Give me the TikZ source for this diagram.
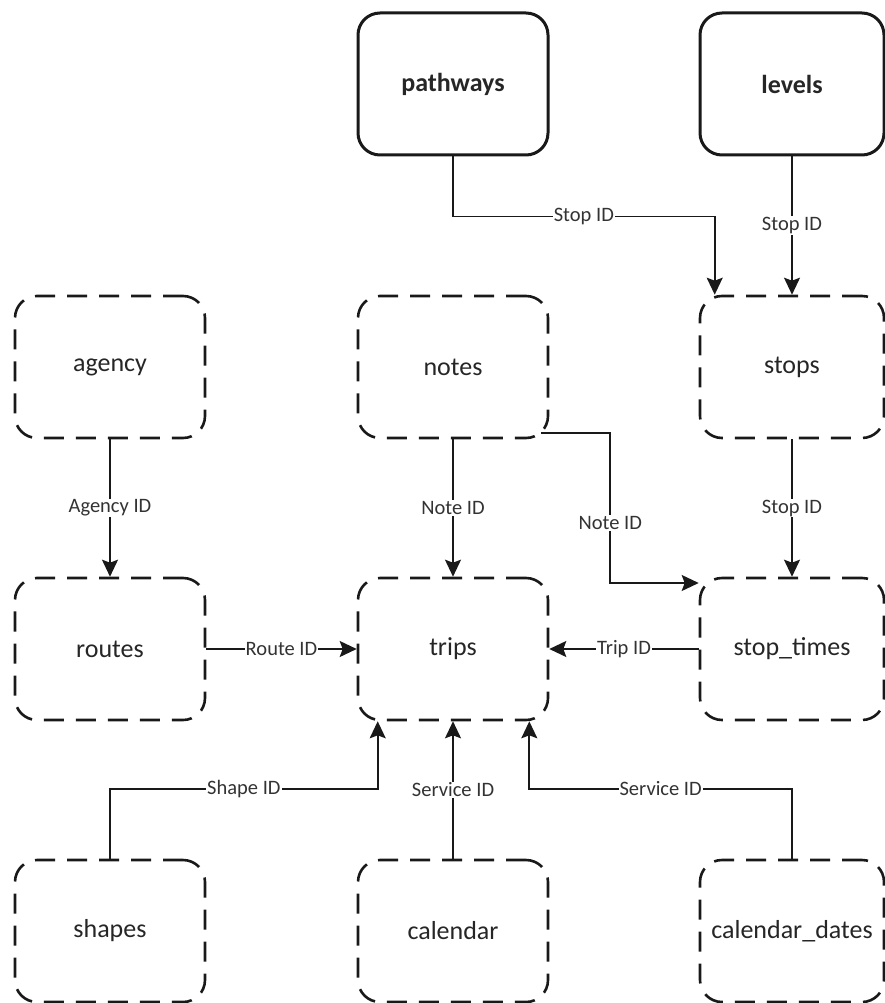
\documentclass[tikz,border=0pt]{standalone}
\usepackage{fontspec}
\setmainfont{Carlito}
\usetikzlibrary{calc}
\usetikzlibrary{arrows.meta}

\begin{document}
\begin{tikzpicture}[x=1pt,y=-1pt,
  table/.style={draw=black!90, line width=2.6pt, dash pattern=on 20pt off 12pt,
    rounded corners=22pt, minimum width=190pt, minimum height=142pt,
    inner sep=0pt, text=black!85, font=\fontsize{26}{30}\selectfont},
  narrow/.style={minimum width=184pt},
  extra/.style={draw=black!90, line width=3pt, solid, rounded corners=22pt,
    minimum width=190pt, minimum height=142pt, inner sep=0pt,
    text=black!85, font=\bfseries\fontsize{26}{30}\selectfont},
  link/.style={line width=1.8pt, draw=black!90,
    arrows={-Stealth[length=17pt,width=16pt,inset=3pt]}},
  key/.style={fill=white, inner sep=1pt, text=black!80,
    font=\fontsize{20.5}{24}\selectfont}]

\useasboundingbox (0,0) rectangle (885,1003);

% optional tables
\node[extra] (pathways) at (453,84) {pathways};
\node[extra,narrow] (levels) at (792,84) {levels};

% row 1
\node[table] (agency) at (110,367) {agency};
\node[table] (notes) at (453,367) {notes};
\node[table,narrow] (stops) at (792,367) {stops};

% row 2
\node[table] (routes) at (110,649) {routes};
\node[table] (trips) at (453,649) {trips};
\node[table,narrow] (stop_times) at (792,649) {stop\_times};

% row 3
\node[table] (shapes) at (110,931) {shapes};
\node[table] (calendar) at (453,931) {calendar};
\node[table,narrow] (calendar_dates) at (792,931) {calendar\_dates};

% keys
\draw[link] (pathways.south) -- ++(0,60) -| node[key,pos=0.25] {Stop ID}
  ([shift={(16,0)}]stops.north west);
\draw[link] (levels) -- node[key] {Stop ID} (stops);

\draw[link] (agency) -- node[key] {Agency ID} (routes);
\draw[link] (notes) -- node[key] {Note ID} (trips);
\draw[link] ([shift={(-8,-6)}]notes.south east) -- ++(69,0)
  |- node[key,pos=0.3] {Note ID} ([shift={(0,-66)}]stop_times.west);
\draw[link] (stops) -- node[key] {Stop ID} (stop_times);

\draw[link] (routes) -- node[key] {Route ID} (trips);
\draw[link] (stop_times) -- node[key] {Trip ID} (trips);

\draw[link] (shapes.north) -- ++(0,-70) -| node[key,pos=0.25] {Shape ID}
  ([shift={(21,0)}]trips.south west);
\draw[link] (calendar) -- node[key] {Service ID} (trips);
\draw[link] (calendar_dates.north) -- ++(0,-70) -| node[key,pos=0.25] {Service ID}
  ([shift={(-20,0)}]trips.south east);

\end{tikzpicture}
\end{document}
